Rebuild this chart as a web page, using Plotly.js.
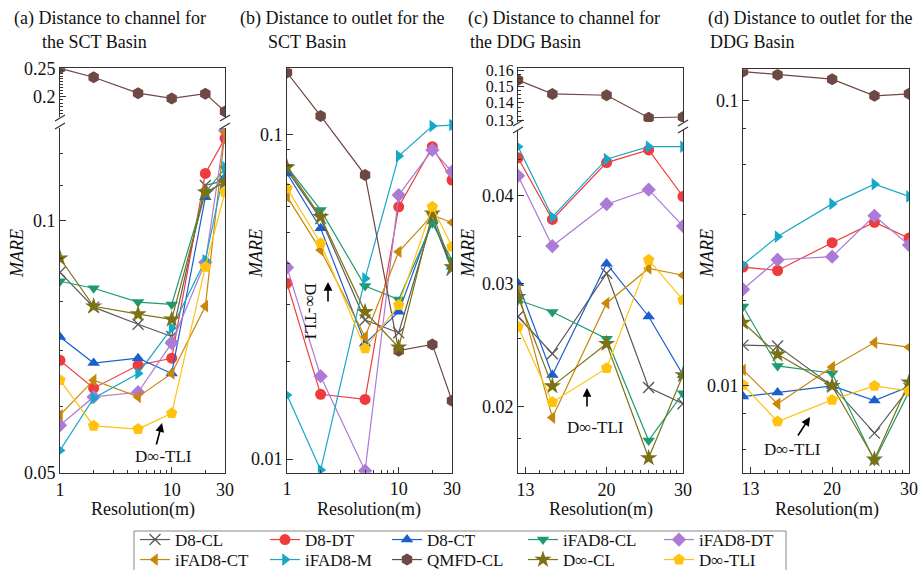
<!DOCTYPE html>
<html><head><meta charset="utf-8">
<script src="https://cdn.plot.ly/plotly-3.0.1.min.js"></script>
<style>html,body{margin:0;padding:0;background:#fff}</style>
</head><body><div id="chart" style="width:919px;height:570px"></div>
<script>
// ---------------- DATA ----------------
const seriesNames = ['D8-CL','D8-DT','D8-CT','iFAD8-CL','iFAD8-DT','iFAD8-CT','iFAD8-M','QMFD-CL','D∞-CL','D∞-TLI'];
const resSCT = [1, 2, 5, 10, 20, 30];
const resDDG = [12.5, 15, 20, 25, 30];

// (a) Distance to channel, SCT basin
const a_D8_CL    = [0.0867, 0.0788, 0.0752, 0.0727, 0.110, 0.1116];
const a_D8_DT    = [0.0681, 0.0631, 0.0672, 0.0685, 0.1137, 0.1252];
const a_D8_CT    = [0.0726, 0.0676, 0.0685, 0.0657, 0.1065, 0.1125];
const a_iFAD8_CL = [0.0846, 0.0830, 0.0799, 0.0794, 0.108, 0.1153];
const a_iFAD8_DT = [0.0570, 0.0616, 0.0624, 0.0714, 0.0891, 0.128];
const a_iFAD8_CT = [0.0586, 0.0645, 0.0616, 0.0657, 0.0790, 0.1273];
const a_iFAD8_M  = [0.0532, 0.0614, 0.0657, 0.0744, 0.0896, 0.1157];
const a_QMFD_CL  = [0.25, 0.233, 0.2056, 0.1973, 0.2048, 0.178];
const a_Dinf_CL  = [0.0901, 0.0790, 0.0773, 0.0762, 0.108, 0.111];
const a_Dinf_TLI = [0.0645, 0.0569, 0.0564, 0.0589, 0.088, 0.108];

// (b) Distance to outlet, SCT basin
const b_D8_CL    = [0.0776, 0.055, 0.0268, 0.0245, 0.055, 0.0382];
const b_D8_DT    = [0.0348, 0.01583, 0.01527, 0.0598, 0.0916, 0.0723];
const b_D8_CT    = [0.0758, 0.0514, 0.0227, 0.0284, 0.0545, 0.0391];
const b_iFAD8_CL = [0.0795, 0.0585, 0.0341, 0.031, 0.0532, 0.041];
const b_iFAD8_DT = [0.0389, 0.018, 0.0092, 0.065, 0.0895, 0.0767];
const b_iFAD8_CT = [0.0643, 0.044, 0.0238, 0.0435, 0.0564, 0.0535];
const b_iFAD8_M  = [0.01574, 0.00925, 0.036, 0.0857, 0.106, 0.1068];
const b_QMFD_CL  = [0.155, 0.1139, 0.0749, 0.02157, 0.02255, 0.01512];
const b_Dinf_CL  = [0.0791, 0.0557, 0.0284, 0.0221, 0.0571, 0.039];
const b_Dinf_TLI = [0.0682, 0.0462, 0.0219, 0.0298, 0.0598, 0.0451];

// (c) Distance to channel, DDG basin
const c_D8_CL    = [0.0269, 0.0238, 0.031, 0.0213, 0.0202];
const c_D8_DT    = [0.0453, 0.037, 0.0446, 0.0465, 0.0399];
const c_D8_CT    = [0.030, 0.0222, 0.032, 0.0269, 0.0222];
const c_iFAD8_CL = [0.0284, 0.0273, 0.025, 0.0179, 0.0209];
const c_iFAD8_DT = [0.0427, 0.0339, 0.0389, 0.0408, 0.0362];
const c_iFAD8_CT = [0.0293, 0.0193, 0.0281, 0.0315, 0.0308];
const c_iFAD8_M  = [0.047, 0.0373, 0.0451, 0.047, 0.047];
const c_QMFD_CL  = [0.1539, 0.1453, 0.1445, 0.1316, 0.132];
const c_Dinf_CL  = [0.0287, 0.0214, 0.0246, 0.0169, 0.0222];
const c_Dinf_TLI = [0.026, 0.0203, 0.0227, 0.0324, 0.0284];

// (d) Distance to outlet, DDG basin
const d_D8_CL    = [0.0139, 0.0138, 0.0100, 0.00683, 0.0098];
const d_D8_DT    = [0.0261, 0.0254, 0.0318, 0.0375, 0.033];
const d_D8_CT    = [0.00917, 0.00948, 0.0100, 0.00888, 0.00995];
const d_iFAD8_CL = [0.019, 0.01175, 0.01108, 0.00546, 0.00955];
const d_iFAD8_DT = [0.0218, 0.0277, 0.0284, 0.0395, 0.0312];
const d_iFAD8_CT = [0.01138, 0.00865, 0.01164, 0.01419, 0.01367];
const d_iFAD8_M  = [0.0266, 0.0334, 0.0435, 0.051, 0.0462];
const d_QMFD_CL  = [0.1267, 0.1234, 0.1191, 0.1041, 0.1058];
const d_Dinf_CL  = [0.01668, 0.0129, 0.0100, 0.00553, 0.0103];
const d_Dinf_TLI = [0.01008, 0.0075, 0.00893, 0.0100, 0.0096];

const panelA = [a_D8_CL, a_D8_DT, a_D8_CT, a_iFAD8_CL, a_iFAD8_DT, a_iFAD8_CT, a_iFAD8_M, a_QMFD_CL, a_Dinf_CL, a_Dinf_TLI];
const panelB = [b_D8_CL, b_D8_DT, b_D8_CT, b_iFAD8_CL, b_iFAD8_DT, b_iFAD8_CT, b_iFAD8_M, b_QMFD_CL, b_Dinf_CL, b_Dinf_TLI];
const panelC = [c_D8_CL, c_D8_DT, c_D8_CT, c_iFAD8_CL, c_iFAD8_DT, c_iFAD8_CT, c_iFAD8_M, c_QMFD_CL, c_Dinf_CL, c_Dinf_TLI];
const panelD = [d_D8_CL, d_D8_DT, d_D8_CT, d_iFAD8_CL, d_iFAD8_DT, d_iFAD8_CT, d_iFAD8_M, d_QMFD_CL, d_Dinf_CL, d_Dinf_TLI];

const panelTitles = [
  ['(a) Distance to channel for', 'the SCT Basin'],
  ['(b) Distance to outlet for the', 'SCT Basin'],
  ['(c) Distance to channel for', 'the DDG Basin'],
  ['(d) Distance to outlet for the', 'DDG Basin']
];
const xTickSCT = [1, 10, 30];
const xTickDDG = [13, 20, 30];

// ---------------- STYLE ----------------
const colors  = ['#5a5a5a','#ef3b3b','#1b5fcf','#1f9a6e','#ad7ad6','#c8860b','#17a8c7','#6e4843','#7b7214','#ffc20f'];
const symbols = ['x-thin-open','circle','triangle-up','triangle-down','diamond','triangle-left','triangle-right','hexagon','star','pentagon'];
const msizes  = [11, 11, 11, 11, 11, 11, 11, 12, 13, 12];

const W = 919, H = 570;
const fx = p => p / W;
const fy = p => 1 - p / H;
const FONT = 'Liberation Serif, "Times New Roman", serif';
const tickFont = {family: FONT, size: 18, color: '#111'};
const L10 = Math.log10;

function axis(isX, d0, d1, lo, hi, tv, tt, mv, extra) {
  const a = {
    type: 'log',
    domain: isX ? [fx(d0), fx(d1)] : [fy(d1), fy(d0)],
    range: [L10(lo), L10(hi)],
    tickmode: 'array', tickvals: tv, ticktext: tt,
    ticks: 'inside', ticklen: 6, tickwidth: 1, tickcolor: '#333',
    showline: true, linecolor: '#333', linewidth: 1,
    showgrid: false, zeroline: false, tickfont: tickFont, fixedrange: true,
    minor: {tickmode: 'array', tickvals: mv, ticks: 'inside', ticklen: 3, tickwidth: 1, tickcolor: '#333', showgrid: false}
  };
  return Object.assign(a, extra || {});
}

function legendKey(i) { return i === 0 ? 'legend' : 'legend' + (i + 1); }

const traces = [];
function addSeries(xs, ys, i, xa, ya, showLeg) {
  traces.push({
    type: 'scatter', mode: 'lines+markers', name: seriesNames[i],
    x: xs, y: ys, xaxis: xa, yaxis: ya,
    line: {color: colors[i], width: 1.2},
    marker: {symbol: symbols[i], size: msizes[i], color: colors[i],
             line: {color: colors[i], width: i === 0 ? 1.3 : 0}},
    showlegend: showLeg, legend: legendKey(i)
  });
}

const QM = 7;
for (let i = 0; i < 10; i++) {
  addSeries(resSCT, panelA[i], i, i === QM ? 'x2' : 'x', i === QM ? 'y2' : 'y', true);
  addSeries(resSCT, panelB[i], i, 'x3', 'y3', false);
  addSeries(resDDG, panelC[i], i, i === QM ? 'x5' : 'x4', i === QM ? 'y5' : 'y4', false);
  addSeries(resDDG, panelD[i], i, 'x6', 'y6', false);
}

const mxSCT = [2,3,4,5,6,7,8,9,20];
const mxDDG = [14,15,16,17,18,19,21,22,23,24,25,26,27,28,29];
const xs = v => v.map(String);
const upperAminor = [0.175,0.18,0.185,0.19,0.195,0.205,0.21,0.215,0.22,0.225,0.23,0.235,0.24,0.245];
const upperCminor = [0.1325,0.135,0.1375,0.1425,0.145,0.1475,0.1525,0.155,0.1575];

const layout = {
  width: W, height: H, margin: {l: 0, r: 0, t: 0, b: 0, autoexpand: false},
  paper_bgcolor: '#fff', plot_bgcolor: '#fff',
  font: {family: FONT, size: 18, color: '#111'},
  // (a)
  xaxis:  axis(true, 60, 225, 1, 30, xTickSCT, xs(xTickSCT), mxSCT, {anchor: 'y', mirror: false}),
  yaxis:  axis(false, 128, 473, 0.05, 0.1288, [0.05, 0.1], ['0.05', '0.1'], [0.06,0.07,0.08,0.09,0.11,0.12], {anchor: 'x', mirror: true}),
  xaxis2: axis(true, 60, 225, 1, 30, [], [], [], {anchor: 'y2', side: 'top', ticks: '', showticklabels: false, mirror: false}),
  yaxis2: axis(false, 68.3, 117, 0.1705, 0.25, [0.2, 0.25], ['0.2', '0.25'], upperAminor, {anchor: 'x2', mirror: true}),
  // (b)
  xaxis3: axis(true, 287, 452, 1, 30, xTickSCT, xs(xTickSCT), mxSCT, {anchor: 'y3', mirror: true}),
  yaxis3: axis(false, 68.3, 472.7, 0.00908, 0.1597, [0.01, 0.1], ['0.01', '0.1'], [0.02,0.03,0.04,0.05,0.06,0.07,0.08,0.09], {anchor: 'x3', mirror: true}),
  // (c)
  xaxis4: axis(true, 518, 683, 12.5, 30, xTickDDG, xs(xTickDDG), mxDDG, {anchor: 'y4', mirror: false}),
  yaxis4: axis(false, 130, 473.3, 0.01607, 0.04964, [0.02, 0.03, 0.04], ['0.02', '0.03', '0.04'], [0.018, 0.025, 0.035, 0.045], {anchor: 'x4', mirror: true}),
  xaxis5: axis(true, 518, 683, 12.5, 30, [], [], [], {anchor: 'y5', side: 'top', ticks: '', showticklabels: false, mirror: false}),
  yaxis5: axis(false, 68.3, 122, 0.1293, 0.1616, [0.13, 0.14, 0.15, 0.16], ['0.13', '0.14', '0.15', '0.16'], upperCminor, {anchor: 'x5', mirror: true, tickfont: {family: FONT, size: 16, color: '#111'}}),
  // (d)
  xaxis6: axis(true, 743, 909, 12.5, 30, xTickDDG, xs(xTickDDG), mxDDG, {anchor: 'y6', mirror: true}),
  yaxis6: axis(false, 69.3, 472.7, 0.00496, 0.129, [0.01, 0.1], ['0.01', '0.1'], [0.006, 0.008, 0.02, 0.04, 0.06, 0.08], {anchor: 'x6', mirror: true}),
  shapes: [], annotations: []
};

// legends: 10 single-entry legends laid out in a 5x2 grid
const colX = [135, 265, 387, 523, 659];
const rowY = [540, 560];
for (let i = 0; i < 10; i++) {
  const col = i % 5, row = Math.floor(i / 5);
  layout[legendKey(i)] = {
    x: fx(colX[col]), y: fy(rowY[row]), xanchor: 'left', yanchor: 'middle',
    bgcolor: 'rgba(0,0,0,0)', borderwidth: 0, itemwidth: 30,
    font: {family: FONT, size: 17, color: '#111'}, orientation: 'v'
  };
}
layout.shapes.push({type: 'rect', xref: 'paper', yref: 'paper', x0: fx(134), x1: fx(786), y0: fy(531), y1: fy(573), line: {color: '#888', width: 1}});

// axis break marks
function brk(xp, yp) {
  layout.shapes.push({type: 'line', xref: 'paper', yref: 'paper', x0: fx(xp - 5), y0: fy(yp + 3), x1: fx(xp + 5), y1: fy(yp - 3), line: {color: '#333', width: 1.2}});
}
[60, 225].forEach(x => { brk(x, 118); brk(x, 126); });
[518, 683].forEach(x => { brk(x, 123); brk(x, 130); });

// annotations
const A = layout.annotations;
function txt(text, xp, yp, opts) {
  A.push(Object.assign({text: text, xref: 'paper', yref: 'paper', x: fx(xp), y: fy(yp), showarrow: false,
    xanchor: 'center', yanchor: 'middle', font: {family: FONT, size: 18, color: '#111'}}, opts || {}));
}
const titleX1 = [12, 238, 466, 706];
const titleX2 = [40, 266, 468, 708];
panelTitles.forEach((t, k) => {
  txt(t[0], titleX1[k], 19, {xanchor: 'left'});
  txt(t[1], titleX2[k], 42, {xanchor: 'left'});
});
[17, 256, 468, 707].forEach(x => txt('<i>MARE</i>', x, 254, {textangle: -90}));
[143, 369, 601, 827].forEach(x => txt('Resolution(m)', x, 509, {font: {family: FONT, size: 18, color: '#111'}}));

// D∞-TLI call-outs
txt('D∞-TLI', 163, 456, {font: {family: FONT, size: 17, color: '#111'}});
txt('D∞-TLI', 311, 311, {textangle: 90, font: {family: FONT, size: 17, color: '#111'}});
txt('D∞-TLI', 595, 427, {font: {family: FONT, size: 17, color: '#111'}});
txt('D∞-TLI', 792, 449, {font: {family: FONT, size: 17, color: '#111'}});
function arrow(hx, hy, tx, ty) {
  A.push({text: '', xref: 'paper', yref: 'paper', x: fx(hx), y: fy(hy), axref: 'pixel', ayref: 'pixel',
    ax: tx - hx, ay: ty - hy, showarrow: true, arrowhead: 2, arrowsize: 1.1, arrowwidth: 1.6, arrowcolor: '#000', standoff: 0});
}
arrow(162, 423, 156, 446);
arrow(328, 282, 328, 303);
arrow(587, 388, 587, 408);
arrow(810, 417, 797, 437);

Plotly.newPlot('chart', traces, layout, {staticPlot: true, displayModeBar: false});
</script>
</body></html>
